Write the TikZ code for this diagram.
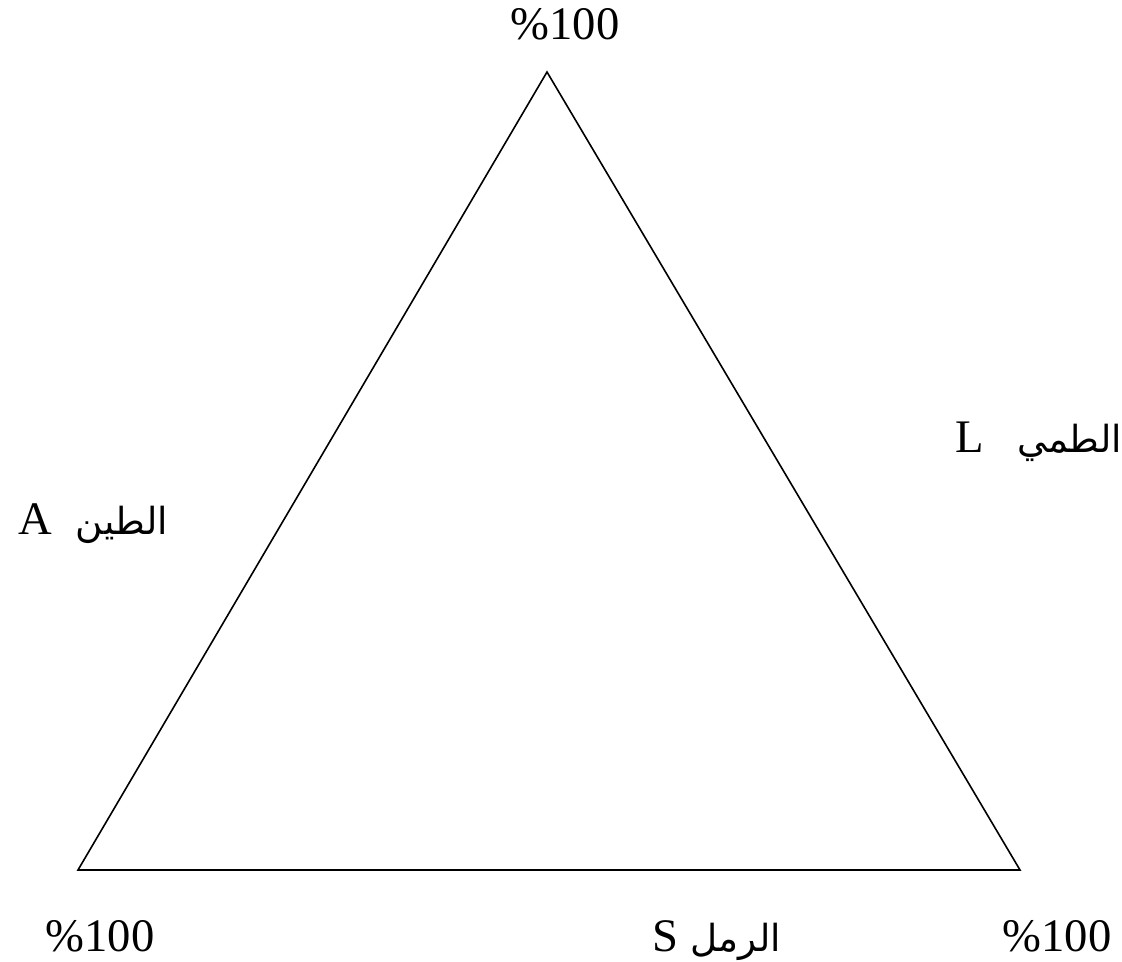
\documentclass[tikz,border=0pt]{standalone}
\usepackage{fontspec}
\setmainfont{Liberation Serif}
\newfontfamily\arabicfont[Script=Arabic]{DejaVu Sans}
\TeXXeTstate=1
\newcommand{\ar}[1]{{\fontsize{28}{34}\arabicfont\beginR #1\endR}}
\begin{document}
\begin{tikzpicture}[x=0.75pt,y=-0.75pt,
  lbl/.style={inner sep=0pt,font=\fontsize{35}{42}\selectfont},
  edge/.style={draw=black,line width=1.2pt,line join=miter}]
\useasboundingbox (0,0) rectangle (1122,962);
\coordinate (T) at (547,72);
\coordinate (BL) at (78,870);
\coordinate (BR) at (1020,870);
\draw[edge] (T) -- (BL) -- (BR) -- cycle;
\node[lbl,anchor=base] (top) at (565,40) {\%100};
\node[lbl,anchor=base] (bl) at (100,951) {\%100};
\node[lbl,anchor=base] (br) at (1057,951) {\%100};
\node[lbl,anchor=base west] (s) at (652,951) {S\hspace{9pt}\ar{الرمل}};
\node[lbl,anchor=base west] (a) at (18,535) {A\hspace{18pt}\ar{الطين}};
\node[lbl,anchor=base west] (l) at (955,453) {L\hspace{25pt}\ar{الطمي}};
\end{tikzpicture}
\end{document}
